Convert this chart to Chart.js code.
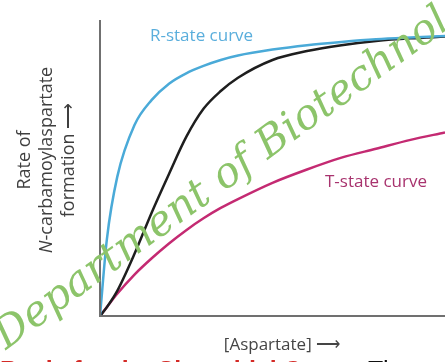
<!DOCTYPE html>
<html>
<head>
<meta charset="utf-8">
<script src="https://cdn.jsdelivr.net/npm/chart.js@4"></script>
<style>
  html, body { margin: 0; padding: 0; background: #fff; }
  #wrap { width: 445px; height: 362px; position: relative; }
</style>
</head>
<body>
<div id="wrap"><canvas id="c"></canvas></div>
<script>
// Aspartate concentration (arbitrary units)
const aspartate = [0, 2, 5, 10, 15, 20, 25, 30, 35, 40, 50, 60, 70, 80, 90, 100];
// Rate of N-carbamoylaspartate formation (relative units)
const rState   = [0, 26, 47, 64.5, 73, 78.5, 82, 84.5, 86.5, 88, 90, 91.5, 92.6, 93.5, 94.1, 94.6];
const observed = [0, 3, 8.5, 21, 35, 48, 60.5, 70, 76, 80.5, 86.5, 89.5, 91.5, 92.9, 93.8, 94.4];
const tState   = [0, 3, 7.5, 14, 19.5, 24.5, 29, 33, 36.5, 39.5, 45, 49.5, 53.5, 56.5, 59.5, 62];

const seriesLabels = ['R-state curve', 'Observed', 'T-state curve'];
const xTitle = '[Aspartate] ⟶';
const yTitle = ['Rate of', 'N-carbamoylaspartate', 'formation ⟶'];
const caption = ['Basis for the Sigmoidal Curve.', ' The'];
const watermark = 'Department of Biotechnology';

const toPoints = ys => aspartate.map((x, i) => ({ x, y: ys[i] }));

const decor = {
  id: 'decor',
  afterDatasetsDraw(chart) {
    const { ctx, chartArea: a } = chart;
    ctx.save();
    // axes
    ctx.strokeStyle = '#707070';
    ctx.lineWidth = 2;
    ctx.beginPath();
    ctx.moveTo(a.left, a.top);
    ctx.lineTo(a.left, a.bottom);
    ctx.lineTo(chart.width, a.bottom);
    ctx.stroke();

    // curve labels
    ctx.textBaseline = 'alphabetic';
    ctx.textAlign = 'left';
    ctx.font = '17px "Open Sans", sans-serif';
    ctx.fillStyle = '#5aaedc';
    ctx.fillText(seriesLabels[0], 150, 41);
    ctx.fillStyle = '#a8336e';
    ctx.fillText(seriesLabels[2], 325, 187);

    // x axis title
    ctx.fillStyle = '#454545';
    ctx.font = '17px "Open Sans", sans-serif';
    ctx.textAlign = 'center';
    ctx.fillText(xTitle, 282, 350);

    // y axis title (rotated)
    const f = '18px "Open Sans", sans-serif';
    const fi = 'italic 18px "Open Sans", sans-serif';
    ctx.save();
    ctx.translate(0, 160);
    ctx.rotate(-Math.PI / 2);
    ctx.fillStyle = '#3f3f3f';
    ctx.textAlign = 'center';
    ctx.font = f;
    ctx.fillText(yTitle[0], 0, 30);
    const rest = yTitle[1].slice(1);
    ctx.font = fi;
    const wN = ctx.measureText('N').width;
    ctx.font = f;
    const wR = ctx.measureText(rest).width;
    const start = -(wN + wR) / 2;
    ctx.textAlign = 'left';
    ctx.font = fi;
    ctx.fillText('N', start, 52);
    ctx.font = f;
    ctx.fillText(rest, start + wN, 52);
    ctx.textAlign = 'center';
    ctx.fillText(yTitle[2], 0, 74);
    ctx.restore();

    // caption running off the bottom edge; sized so " The" starts at x=368
    ctx.textAlign = 'left';
    ctx.font = 'bold 20px "Liberation Sans", sans-serif';
    const w20 = ctx.measureText(caption[0]).width + ctx.measureText(' ').width;
    const size = 20 * 368 / w20;
    const base = 361 + size * 0.72;
    ctx.font = 'bold ' + size.toFixed(1) + 'px "Liberation Sans", sans-serif';
    ctx.fillStyle = '#d42a26';
    ctx.fillText(caption[0], 0, base);
    const wc = ctx.measureText(caption[0]).width;
    ctx.fillStyle = '#111';
    ctx.font = size.toFixed(1) + 'px "Liberation Sans", sans-serif';
    ctx.fillText(caption[1], wc, base);
    ctx.restore();
  },
  afterDraw(chart) {
    const { ctx } = chart;
    ctx.save();
    ctx.translate(6, 350);
    ctx.rotate(-36 * Math.PI / 180);
    ctx.font = 'italic 42px "DejaVu Serif", serif';
    ctx.fillStyle = '#8cc46a';
    ctx.textAlign = 'left';
    ctx.fillText(watermark, 0, 0);
    ctx.restore();
  }
};

new Chart(document.getElementById('c'), {
  type: 'line',
  data: {
    datasets: [
      { label: seriesLabels[0], data: toPoints(rState), borderColor: '#4aaad8', borderWidth: 2.5 },
      { label: seriesLabels[1], data: toPoints(observed), borderColor: '#1e1e1e', borderWidth: 2.5 },
      { label: seriesLabels[2], data: toPoints(tState), borderColor: '#c42a72', borderWidth: 2.5 }
    ]
  },
  options: {
    responsive: true,
    maintainAspectRatio: false,
    animation: false,
    layout: { padding: { left: 100, top: 20, right: 0, bottom: 46 } },
    elements: {
      point: { radius: 0 },
      line: { cubicInterpolationMode: 'monotone', fill: false }
    },
    scales: {
      x: { type: 'linear', min: 0, max: 100, display: false },
      y: { min: 0, max: 100, display: false }
    },
    plugins: { legend: { display: false }, tooltip: { enabled: false } }
  },
  plugins: [decor]
});
</script>
</body>
</html>
